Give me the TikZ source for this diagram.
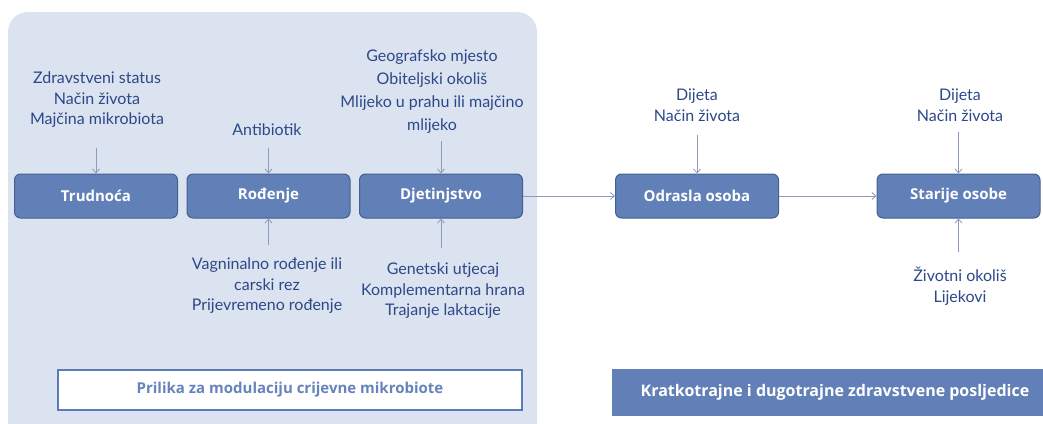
\documentclass[tikz,border=0pt]{standalone}
\usepackage{fontspec}
\setmainfont{Lato}
\newfontfamily\boxfont{Open Sans}
\usetikzlibrary{arrows.meta}
\definecolor{panelblue}{HTML}{DCE3F0}
\definecolor{boxblue}{HTML}{6180B8}
\definecolor{boxedge}{HTML}{45608F}
\definecolor{labelblue}{HTML}{2C4888}
\definecolor{arrowgrey}{HTML}{8C9CBA}
\definecolor{notetext}{HTML}{6683BC}
\definecolor{noteedge}{HTML}{5B7BB8}
\begin{document}
\begin{tikzpicture}[x=1pt,y=-1pt,
    stage/.style={draw=boxedge,fill=boxblue,line width=1pt,rounded corners=6pt,
      minimum width=163pt,minimum height=44pt,text=white,
      font=\boxfont\bfseries\fontsize{15}{18}\selectfont},
    factor/.style={align=center,text=labelblue,inner sep=0pt,
      font=\fontsize{16}{20.5}\selectfont},
    link/.style={draw=arrowgrey,line width=0.8pt,-{Straight Barb[length=4pt,width=7pt]}}]
        \useasboundingbox (0,0) rectangle (1043,423);
        \fill[panelblue,rounded corners=20pt] (8,450) -- (8,12) -- (537,12) -- (537,450) -- cycle;
        % stages
        \node[stage] (v0) at (96,196) {Trudnoća};
        \node[stage] (v1) at (268.5,196) {Rođenje};
        \node[stage] (v2) at (441,196) {Djetinjstvo};
        \node[stage] (v3) at (697,196) {Odrasla osoba};
        \node[stage] (v4) at (958.5,196) {Starije osobe};
        % factors
        \node[factor] (f0) at (97,100) {Zdravstveni status\\Način života\\Majčina mikrobiota};
        \node[factor] (f1) at (267,130) {Antibiotik};
        \node[factor,font=\fontsize{16}{23}\selectfont] (f2) at (432,92) {Geografsko mjesto\\Obiteljski okoliš\\Mlijeko u prahu ili majčino\\mlijeko};
        \node[factor] (f3) at (267,286) {Vagninalno rođenje ili\\carski rez\\Prijevremeno rođenje};
        \node[factor] (f4) at (443,291) {Genetski utjecaj\\Komplementarna hrana\\Trajanje laktacije};
        \node[factor] (f5) at (697,105) {Dijeta\\Način života};
        \node[factor] (f6) at (960,105) {Dijeta\\Način života};
        \node[factor] (f7) at (960,286) {Životni okoliš\\Lijekovi};
        \coordinate (a0) at (96,148);
        \coordinate (a1) at (268.5,148);
        \coordinate (a2) at (441,141);
        \coordinate (a3) at (697,135);
        \coordinate (a4) at (958.5,132);
        \coordinate (a5) at (268.5,245);
        \coordinate (a6) at (441,248);
        \coordinate (a7) at (958.5,252);
        \draw[link] (a0) -- (v0);
        \draw[link] (a1) -- (v1);
        \draw[link] (a2) -- (v2);
        \draw[link] (a3) -- (v3);
        \draw[link] (a4) -- (v4);
        \draw[link] (a5) -- (v1);
        \draw[link] (a6) -- (v2);
        \draw[link] (a7) -- (v4);
        \draw[link] (v2) -- (v3);
        \draw[link] (v3) -- (v4);
        % bottom notes
        \node[draw=noteedge,fill=white,line width=1.3pt,minimum width=464pt,minimum height=40pt,
          text=notetext,font=\boxfont\bfseries\fontsize{15}{18}\selectfont] (n0) at (290,390) {Prilika za modulaciju crijevne mikrobiote};
        \node[fill=boxblue,minimum width=431pt,minimum height=47pt,
          text=white,font=\boxfont\bfseries\fontsize{16}{19}\selectfont] (n1) at (827.5,392.5) {\hspace{15pt}Kratkotrajne i dugotrajne zdravstvene posljedice};
\end{tikzpicture}
\end{document}
